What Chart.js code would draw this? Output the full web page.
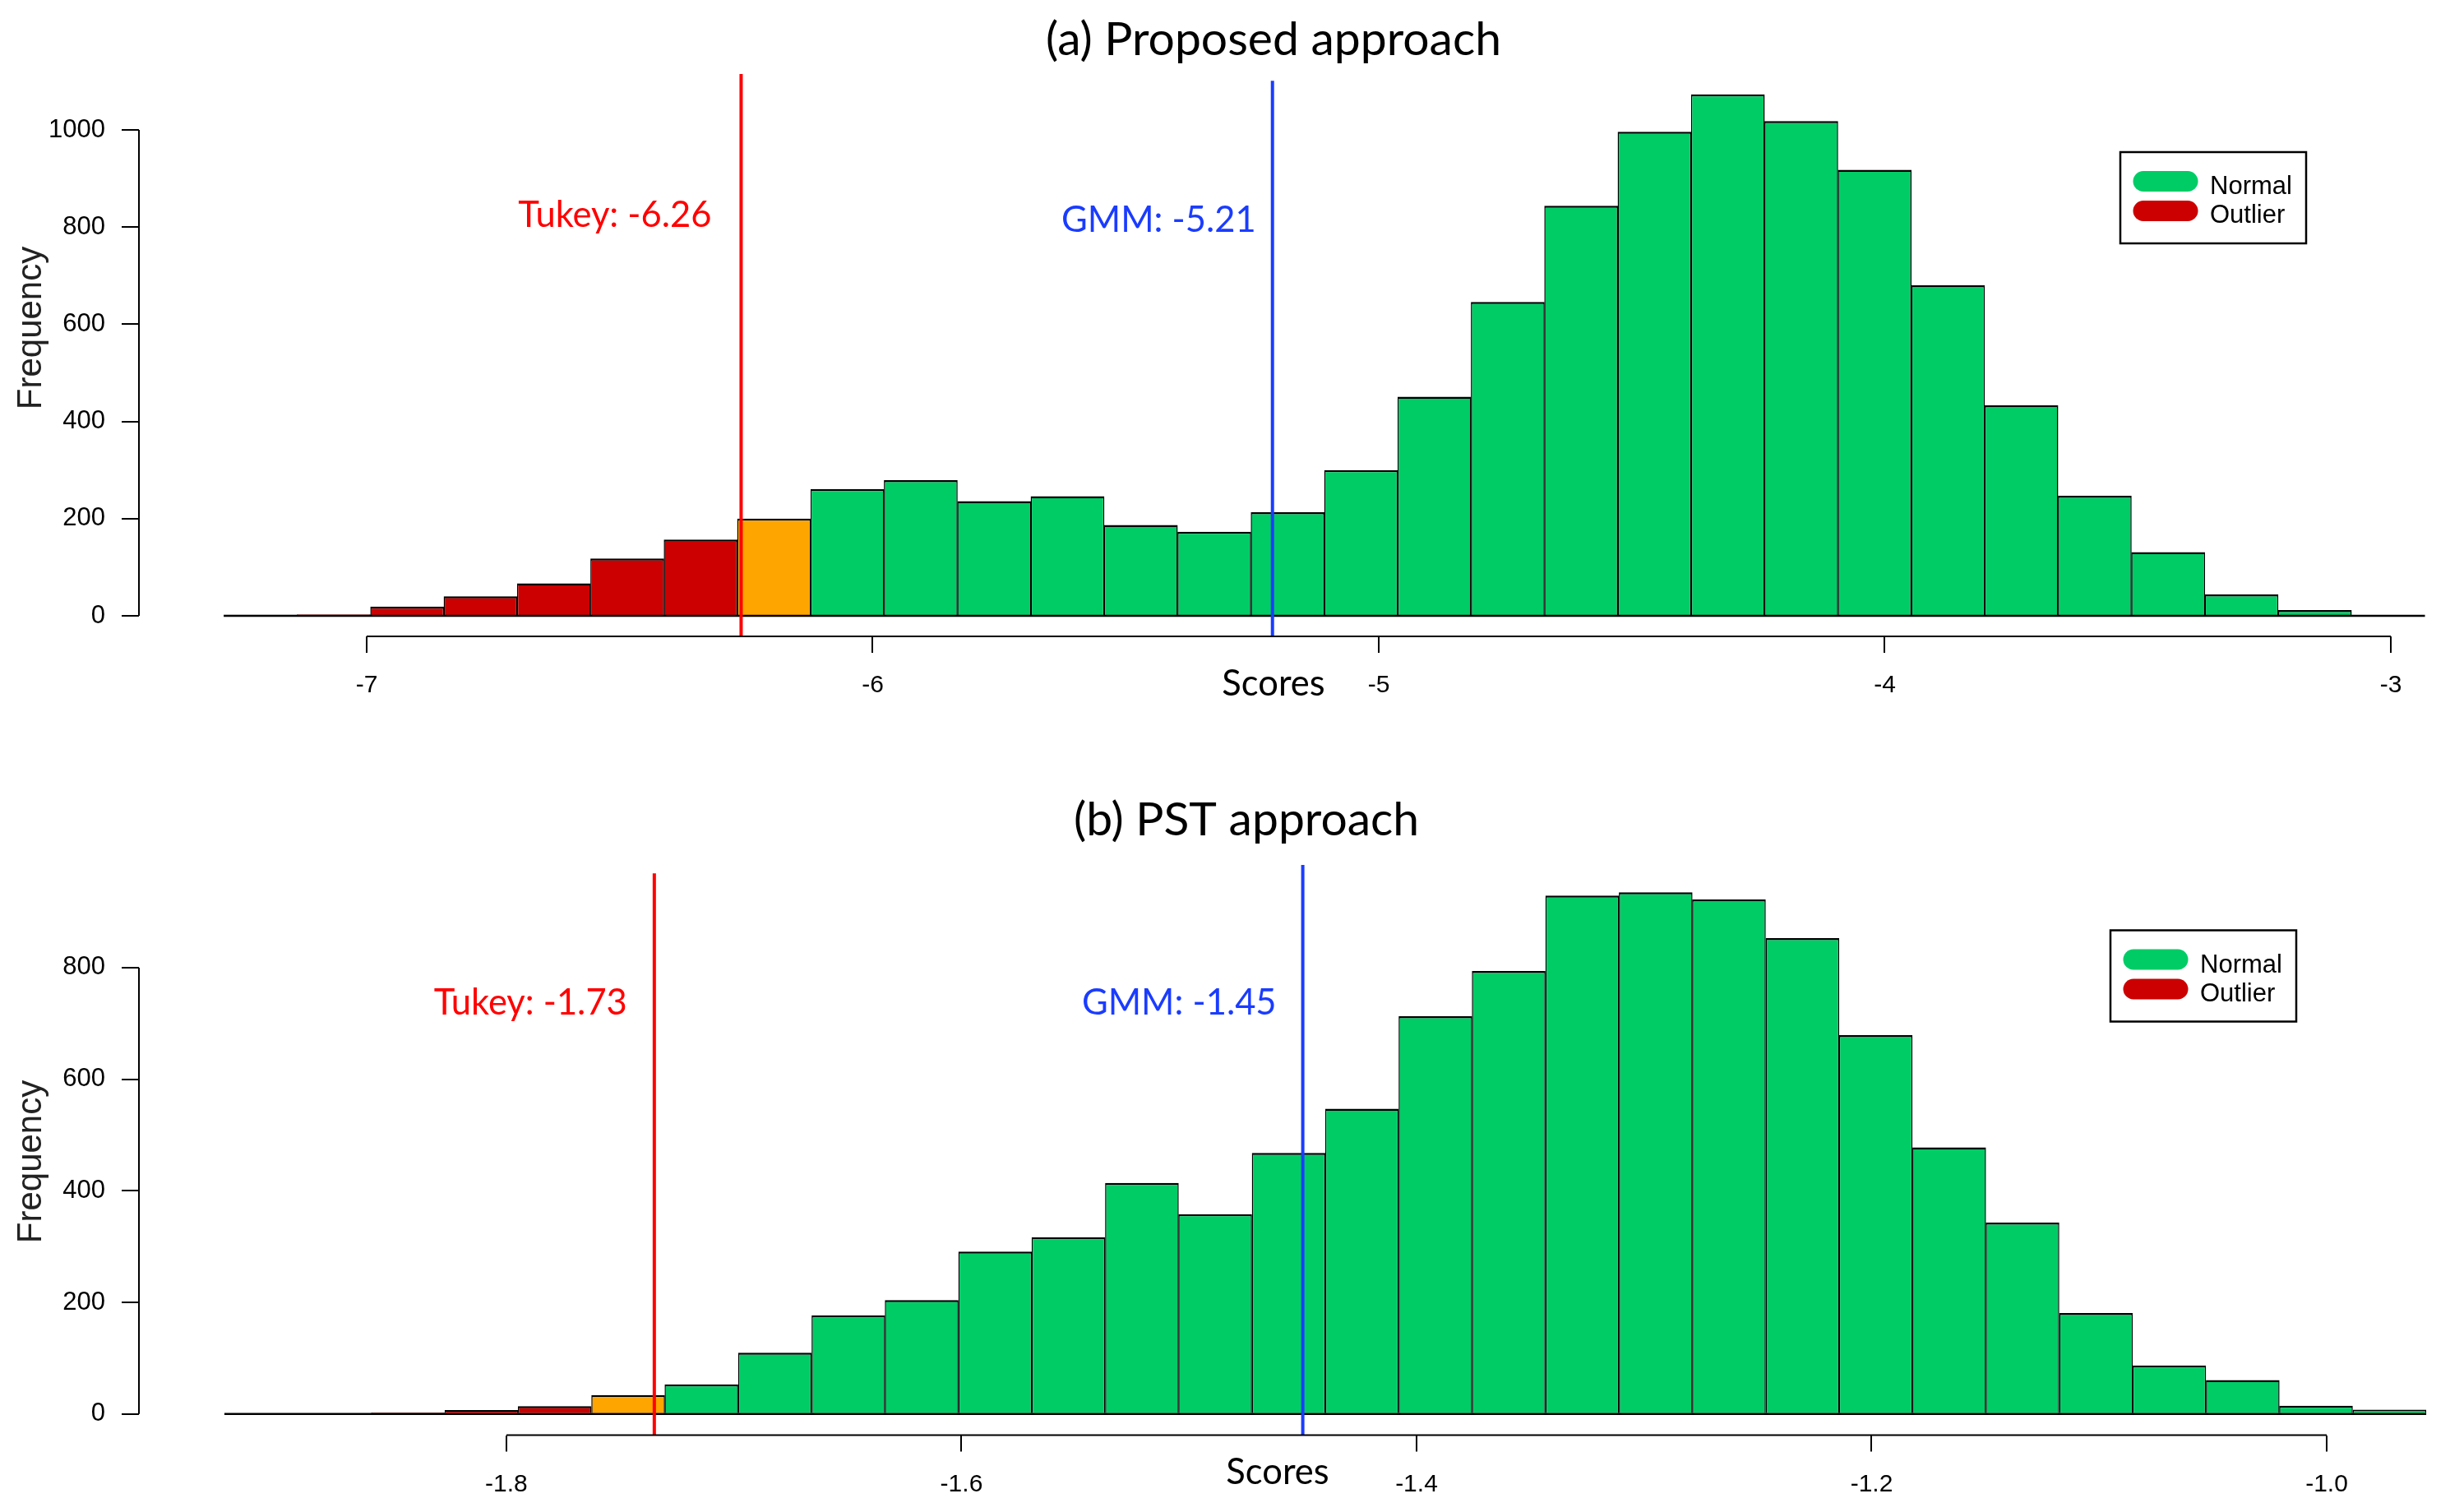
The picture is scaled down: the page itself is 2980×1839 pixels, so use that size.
<!DOCTYPE html>
<html>
<head>
<meta charset="utf-8">
<script src="https://cdn.jsdelivr.net/npm/chart.js@4.4.1/dist/chart.umd.min.js"></script>
<style>
  html, body { margin: 0; padding: 0; background: #fff; }
  body { width: 2980px; height: 1839px; overflow: hidden; position: relative; }
  canvas { position: absolute; left: 0; }
  #histA { top: 0; }
  #histB { top: 920px; }
</style>
</head>
<body>
<canvas id="histA" width="2980" height="920"></canvas>
<canvas id="histB" width="2980" height="919"></canvas>
<script>
// (a) proposed approach: bin centres and counts
const binsA = [-7.210, -7.065, -6.920, -6.775, -6.630, -6.485, -6.340, -6.195, -6.050, -5.905,
               -5.760, -5.615, -5.470, -5.325, -5.180, -5.035, -4.890, -4.745, -4.600, -4.455,
               -4.310, -4.165, -4.020, -3.875, -3.730, -3.585, -3.440, -3.295, -3.150, -3.005];
const countsA = [2, 3, 19, 40, 67, 118, 157, 200, 261, 279,
                 236, 246, 187, 173, 213, 300, 451, 646, 844, 996,
                 1073, 1018, 918, 680, 433, 247, 131, 44, 12, 0];
const xTicksA = [-7, -6, -5, -4, -3];
const yTicksA = [0, 200, 400, 600, 800, 1000];
const tukeyA = -6.26;
const gmmA = -5.21;
const lineTopsA = [1115, 1101];   // tukey, gmm

// (b) PST approach
const binsB = [-1.9078, -1.8755, -1.8433, -1.8110, -1.7788, -1.7465, -1.7143, -1.6820, -1.6497, -1.6175,
               -1.5852, -1.5530, -1.5207, -1.4885, -1.4562, -1.4240, -1.3917, -1.3595, -1.3272, -1.2949,
               -1.2627, -1.2304, -1.1982, -1.1659, -1.1337, -1.1014, -1.0692, -1.0369, -1.0047, -0.9724];
const countsB = [0, 0, 3, 7, 14, 34, 53, 110, 177, 204,
                 291, 317, 414, 358, 468, 547, 713, 794, 929, 935,
                 922, 853, 679, 478, 343, 181, 87, 61, 15, 8];
const xTicksB = [-1.8, -1.6, -1.4, -1.2, -1.0];
const yTicksB = [0, 200, 400, 600, 800];
const tukeyB = -1.735;
const gmmB = -1.45;
const lineTopsB = [969, 984];

const legendLabels = ['Normal', 'Outlier'];

const GREEN = '#00cc66';
const RED = '#cc0000';
const ORANGE = '#ffa500';
const TUKEY_COL = '#ff0000';
const GMM_COL = '#1a3cff';
const R_FONT = 'Liberation Sans, Arial, sans-serif';
const NOTE_FONT = 'Lato, Calibri, sans-serif';

// red = bins left of the Tukey cut, orange = the bin holding it
function binColours(bins, cut) {
    const half = (bins[1] - bins[0]) / 2;
    return bins.map(c => {
        if (c + half <= cut) return RED;
        if (c - half <= cut) return ORANGE;
        return GREEN;
    });
}

const rDecor = {
    id: 'rDecor',
    afterDraw: (chart, args, o) => {
        const {ctx, chartArea, scales: {x, y}} = chart;
        ctx.save();

        // R style axis lines, first tick to last tick only
        ctx.strokeStyle = '#000';
        ctx.lineWidth = 2;
        ctx.beginPath();
        ctx.moveTo(x.getPixelForValue(o.xTicks[0]), chartArea.bottom);
        ctx.lineTo(x.getPixelForValue(o.xTicks[o.xTicks.length - 1]), chartArea.bottom);
        ctx.moveTo(chartArea.left, y.getPixelForValue(o.yTicks[0]));
        ctx.lineTo(chartArea.left, y.getPixelForValue(o.yTicks[o.yTicks.length - 1]));
        ctx.stroke();

        // title and axis names
        ctx.fillStyle = '#000';
        ctx.textAlign = 'center';
        ctx.textBaseline = 'alphabetic';
        ctx.font = '57px ' + NOTE_FONT;
        ctx.fillText(o.title, o.titleX, o.titleY);
        ctx.font = '43.5px ' + NOTE_FONT;
        ctx.fillText('Scores', o.scoresX, o.scoresY);

        ctx.save();
        ctx.fillStyle = '#222';
        ctx.font = '42px ' + R_FONT;
        ctx.translate(38, o.freqY);
        ctx.rotate(-Math.PI / 2);
        ctx.textBaseline = 'middle';
        ctx.fillText('Frequency', 0, 0);
        ctx.restore();

        // threshold labels
        ctx.textAlign = 'right';
        ctx.font = '43.5px ' + NOTE_FONT;
        ctx.fillStyle = TUKEY_COL;
        ctx.fillText(o.tukeyText, x.getPixelForValue(o.tukey) - o.tukeyGap, o.tukeyY);
        ctx.fillStyle = GMM_COL;
        ctx.fillText(o.gmmText, x.getPixelForValue(o.gmm) - o.gmmGap, o.gmmY);

        // legend box
        const lx = o.legendX, ly = o.legendY;
        ctx.fillStyle = '#fff';
        ctx.fillRect(lx, ly, 226, 111);
        ctx.strokeStyle = '#000';
        ctx.lineWidth = 2.5;
        ctx.strokeRect(lx, ly, 226, 111);
        ctx.lineCap = 'round';
        ctx.lineWidth = 25;
        [GREEN, RED].forEach((c, i) => {
            ctx.strokeStyle = c;
            ctx.beginPath();
            ctx.moveTo(lx + 28, ly + 35.5 + i * 36);
            ctx.lineTo(lx + 82, ly + 35.5 + i * 36);
            ctx.stroke();
        });
        ctx.fillStyle = '#000';
        ctx.textAlign = 'left';
        ctx.font = '31px ' + R_FONT;
        legendLabels.forEach((t, i) => ctx.fillText(t, lx + 109, ly + 51 + i * 35));

        ctx.restore();
    }
};

function makeHist(id, c) {
    const half = (c.bins[1] - c.bins[0]) / 2;
    const lineSet = (xv, top, colour) => ({
        type: 'line',
        data: [{x: xv, y: c.yMin}, {x: xv, y: top}],
        borderColor: colour,
        borderWidth: 4,
        pointRadius: 0,
        order: 0
    });
    new Chart(document.getElementById(id), {
        type: 'bar',
        data: {
            datasets: [
                lineSet(c.tukey, c.lineTops[0], TUKEY_COL),
                lineSet(c.gmm, c.lineTops[1], GMM_COL),
                {
                    type: 'line',
                    data: [{x: c.bins[0] - half, y: 0}, {x: c.bins[c.bins.length - 1] + half, y: 0}],
                    borderColor: '#000',
                    borderWidth: 2.5,
                    pointRadius: 0,
                    order: 1
                },
                {
                    type: 'bar',
                    data: c.bins.map((b, i) => ({x: b, y: c.counts[i]})),
                    backgroundColor: binColours(c.bins, c.tukey),
                    borderColor: '#000',
                    borderWidth: {top: 2.5, left: 1.5, right: 1.5, bottom: 0},
                    borderSkipped: false,
                    barPercentage: 1.005,
                    categoryPercentage: 1,
                    order: 2
                }
            ]
        },
        options: {
            responsive: false,
            devicePixelRatio: 1,
            animation: false,
            events: [],
            layout: { padding: { top: c.padTop, right: 0, bottom: c.padBottom, left: 0 } },
            plugins: {
                legend: { display: false },
                tooltip: { enabled: false },
                rDecor: c.decor
            },
            scales: {
                x: {
                    type: 'linear',
                    min: c.xMin, max: c.xMax,
                    offset: false,
                    afterBuildTicks: s => { s.ticks = c.xTicks.map(v => ({value: v})); },
                    afterFit: s => { s.height = c.xAxisH; },
                    ticks: {
                        autoSkip: false, maxRotation: 0, padding: 22, color: '#000',
                        font: { family: R_FONT, size: 30 },
                        callback: c.xFmt
                    },
                    grid: { offset: false, drawOnChartArea: false, tickLength: 20, color: '#000', lineWidth: 2 },
                    border: { display: false }
                },
                y: {
                    min: c.yMin, max: c.yMax,
                    afterBuildTicks: s => { s.ticks = c.yTicks.map(v => ({value: v})); },
                    afterFit: s => { s.width = 169; },
                    ticks: {
                        padding: 20, color: '#000',
                        font: { family: R_FONT, size: 31 },
                        callback: v => String(v)
                    },
                    grid: { drawOnChartArea: false, tickLength: 21, color: '#000', lineWidth: 2 },
                    border: { display: false }
                }
            }
        },
        plugins: [rDecor]
    });
}

makeHist('histA', {
    bins: binsA, counts: countsA, xTicks: xTicksA, yTicks: yTicksA,
    tukey: tukeyA, gmm: gmmA, lineTops: lineTopsA,
    xMin: -7.450, xMax: -2.883, yMin: -42.3, yMax: 1115,
    padTop: 90, padBottom: 46, xAxisH: 100,
    xFmt: v => String(v),
    decor: {
        xTicks: xTicksA, yTicks: yTicksA, tukey: tukeyA, gmm: gmmA,
        title: '(a) Proposed approach', titleX: 1549, titleY: 67,
        scoresX: 1549, scoresY: 846, freqY: 399,
        tukeyText: 'Tukey: -6.26', tukeyGap: 36, tukeyY: 276,
        gmmText: 'GMM: -5.21', gmmGap: 20, gmmY: 282,
        legendX: 2579, legendY: 185
    }
});

makeHist('histB', {
    bins: binsB, counts: countsB, xTicks: xTicksB, yTicks: yTicksB,
    tukey: tukeyB, gmm: gmmB, lineTops: lineTopsB,
    xMin: -1.9615, xMax: -0.9458, yMin: -38.0, yMax: 984,
    padTop: 132, padBottom: 13.4, xAxisH: 80,
    xFmt: v => v.toFixed(1),
    decor: {
        xTicks: xTicksB, yTicks: yTicksB, tukey: tukeyB, gmm: gmmB,
        title: '(b) PST approach', titleX: 1516, titleY: 96,
        scoresX: 1554, scoresY: 885, freqY: 493,
        tukeyText: 'Tukey: -1.73', tukeyGap: 33, tukeyY: 314,
        gmmText: 'GMM: -1.45', gmmGap: 32, gmmY: 314,
        legendX: 2567, legendY: 211.5
    }
});
</script>
</body>
</html>
